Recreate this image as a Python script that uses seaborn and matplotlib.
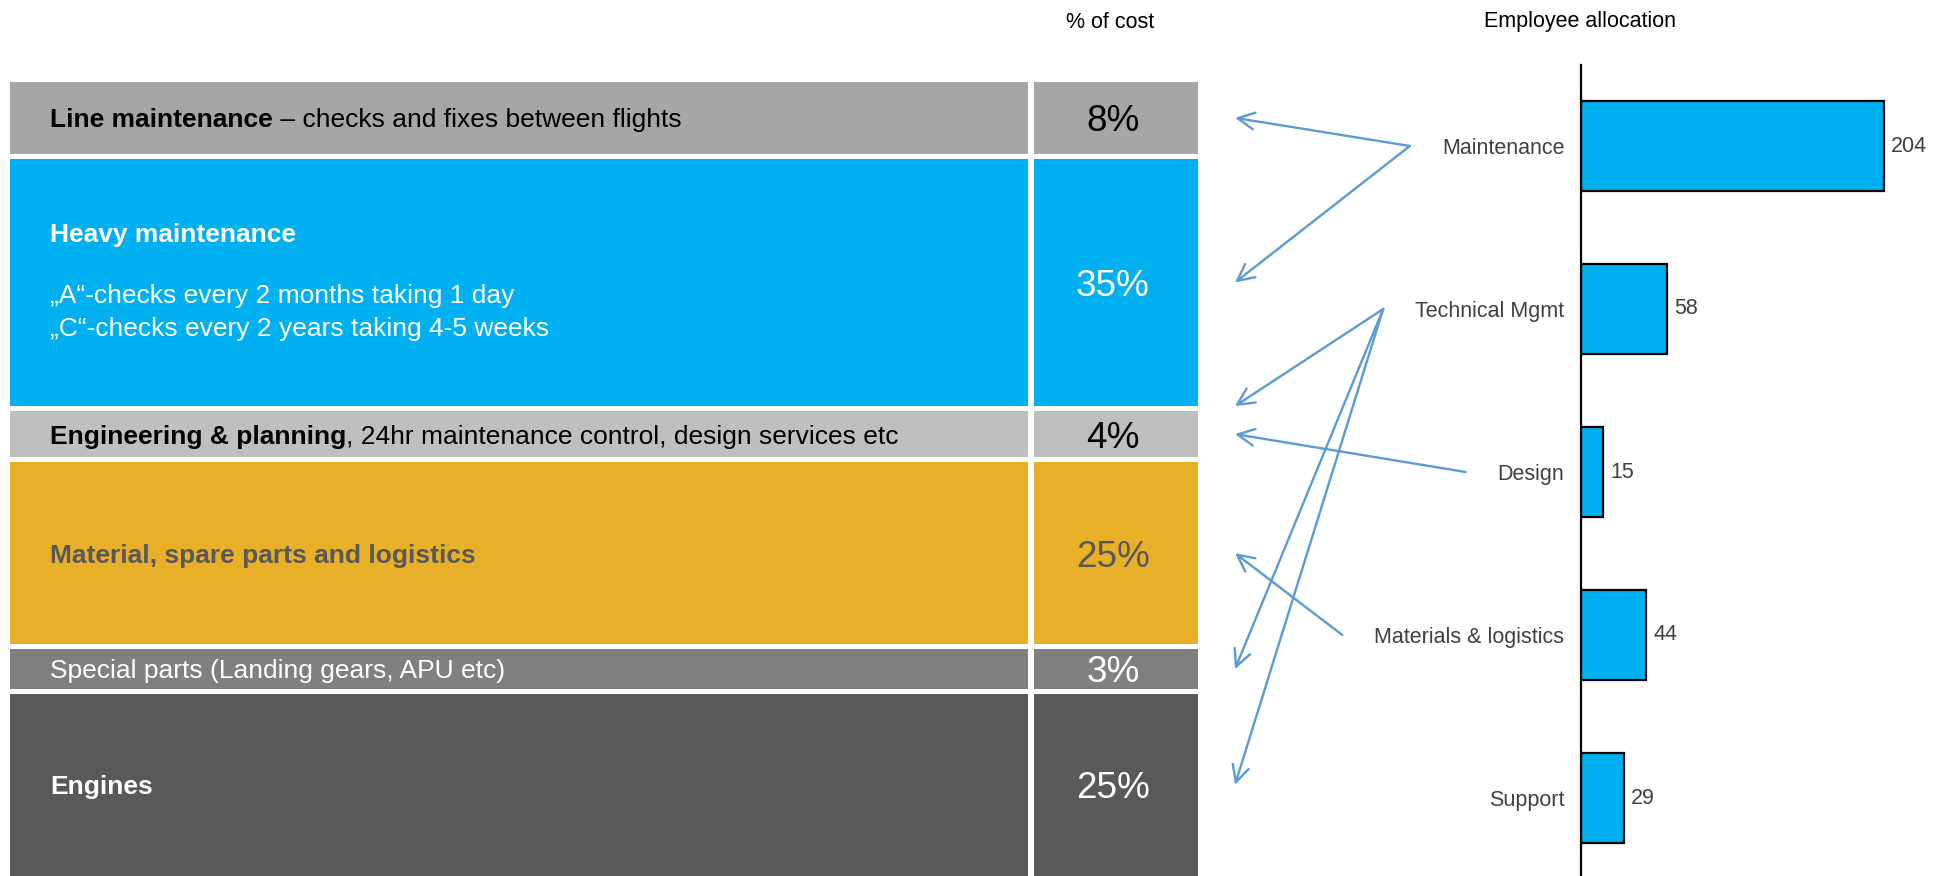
import numpy as np
import pandas as pd
import matplotlib
matplotlib.use("Agg")
import matplotlib.pyplot as plt
import seaborn as sns

# ---------------- data ----------------
cost_bold = ["Line maintenance", "Heavy maintenance", "Engineering & planning",
             "Material, spare parts and logistics", "", "Engines"]
cost_rest = [" \u2013 checks and fixes between flights", "",
             ", 24hr maintenance control, design services etc", "",
             "Special parts (Landing gears, APU etc)", ""]
cost_detail = ["", "\u201eA\u201c-checks every 2 months taking 1 day\n\u201eC\u201c-checks every 2 years taking 4-5 weeks",
               "", "", "", ""]
cost_pct = [8, 35, 4, 25, 3, 25]
cost_colors = ["#A6A6A6", "#00B0F0", "#BFBFBF", "#E8AF28", "#808080", "#595959"]
text_colors = ["black", "white", "black", "#595959", "white", "white"]

emp_categories = ["Maintenance", "Technical Mgmt", "Design", "Materials & logistics", "Support"]
emp_counts = [204, 58, 15, 44, 29]

# employee category -> cost row index
links = [("Maintenance", 0), ("Maintenance", 1), ("Technical Mgmt", 2),
         ("Technical Mgmt", 4), ("Technical Mgmt", 5), ("Design", 2),
         ("Materials & logistics", 3)]

# ---------------- style ----------------
sns.set_theme(style="white")
plt.rcParams["font.family"] = ["Liberation Sans", "DejaVu Sans"]

W, H = 1941, 876
fig = plt.figure(figsize=(W / 100, H / 100), dpi=100)

BODY = 19
PCT = 26.6
SMALL = 15.5
ARROW_C = "#5B9BD5"

# ---------------- left panel: cost breakdown ----------------
pad = 3.8
slots = np.array(cost_pct, dtype=float) + pad
tops = np.concatenate([[0.0], np.cumsum(slots)[:-1]])
total = slots.sum()
panel_h_px = 794.0
upp = total / panel_h_px            # data units per pixel
gap = 5 * upp
heights = slots - gap

LABEL_W, COL_GAP, PCT_W = 1018, 6, 164
ax1 = fig.add_axes([10 / W, 0, (LABEL_W + COL_GAP + PCT_W) / W, panel_h_px / H])
ax1.bar([0] * len(cost_pct), heights, width=LABEL_W, bottom=tops, align="edge",
        color=cost_colors, linewidth=0)
ax1.bar([LABEL_W + COL_GAP] * len(cost_pct), heights, width=PCT_W, bottom=tops,
        align="edge", color=cost_colors, linewidth=0)
ax1.set_xlim(0, LABEL_W + COL_GAP + PCT_W)
ax1.set_ylim(total - gap, 0)
ax1.axis("off")

centers = tops + heights / 2
TX = 40
for i in range(len(cost_pct)):
    c = centers[i]
    tc = text_colors[i]
    if cost_detail[i]:
        ax1.text(TX, c - 50 * upp, cost_bold[i], fontsize=BODY, fontweight="bold",
                 color=tc, va="center_baseline", ha="left")
        ax1.text(TX, c + 30 * upp, cost_detail[i], fontsize=BODY, color=tc,
                 va="center", ha="left", linespacing=1.45)
    elif cost_bold[i]:
        t = ax1.text(TX, c, cost_bold[i], fontsize=BODY, fontweight="bold",
                     color=tc, va="center_baseline", ha="left")
        if cost_rest[i]:
            ax1.annotate(cost_rest[i], xy=(1, 0), xycoords=t, fontsize=BODY,
                         color=tc, va="bottom", ha="left")
    else:
        ax1.text(TX, c, cost_rest[i], fontsize=BODY, color=tc,
                 va="center_baseline", ha="left")
    ax1.text(LABEL_W + COL_GAP + PCT_W / 2 - 3, c, f"{cost_pct[i]}%",
             fontsize=PCT, color=tc, va="center_baseline", ha="center")

fig.text(1110 / W, 1 - 20 / H, "% of cost", fontsize=SMALL, color="black",
         ha="center", va="center_baseline")

# ---------------- right panel: employee allocation ----------------
ax2 = fig.add_axes([1581 / W, -3.5 / H, (W - 1581) / W, 815 / H])
df = pd.DataFrame({"category": emp_categories, "count": emp_counts})
sns.barplot(data=df, x="count", y="category", orient="h", color="#00B0F0",
            saturation=1, edgecolor="black", linewidth=1.6, width=0.55, ax=ax2)
ax2.set_xlim(0, (W - 1581) / 1.485)
ax2.set_ylim(len(emp_categories) - 0.5, -0.5)
ax2.set_xlabel("")
ax2.set_ylabel("")
ax2.set_xticks([])
for s in ["top", "right", "bottom"]:
    ax2.spines[s].set_visible(False)
ax2.spines["left"].set_color("black")
ax2.spines["left"].set_linewidth(1.6)
ax2.tick_params(axis="y", length=0, pad=12, labelsize=SMALL, labelcolor="#404040")
ax2.bar_label(ax2.containers[0], padding=5, fontsize=SMALL, color="#404040")

fig.text(1580 / W, 1 - 19 / H, "Employee allocation", fontsize=SMALL,
         color="black", ha="center", va="center_baseline")

# ---------------- connecting arrows ----------------
fig.canvas.draw()
renderer = fig.canvas.get_renderer()
labels = {t.get_text(): t for t in ax2.get_yticklabels()}
ax1_right = ax1.get_window_extent(renderer).x1
for cat, row in links:
    idx = emp_categories.index(cat)
    bb = labels[cat].get_window_extent(renderer)
    sx = bb.x0 - 32
    sy = ax2.transData.transform((0, idx))[1]
    ex = ax1_right + 37
    ey = ax1.transData.transform((0, centers[row]))[1]
    if cat == "Technical Mgmt" and row == 2:
        ey += 28
    fig.add_artist(matplotlib.patches.FancyArrowPatch(
        (sx, sy), (ex, ey), transform=matplotlib.transforms.IdentityTransform(),
        arrowstyle="->,head_length=12,head_width=6", mutation_scale=1,
        color=ARROW_C, lw=1.7, shrinkA=0, shrinkB=0))

fig.savefig("out.png", dpi=100)
